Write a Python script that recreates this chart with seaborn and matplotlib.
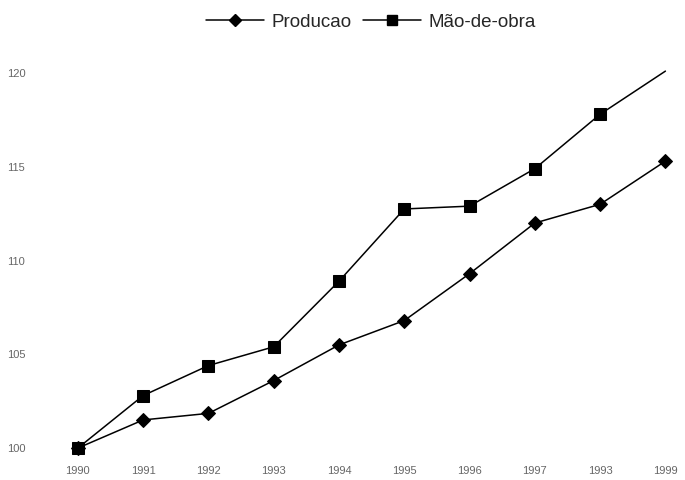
import matplotlib
matplotlib.use("Agg")
import matplotlib.pyplot as plt
from matplotlib.lines import Line2D
import seaborn as sns
import pandas as pd

years = [1990, 1991, 1992, 1993, 1994, 1995, 1996, 1997, 1998, 1999]
year_labels = ["1990", "1991", "1992", "1993", "1994", "1995", "1996", "1997", "1993", "1999"]
producao = [100, 101.5, 101.85, 103.6, 105.5, 106.8, 109.3, 112.0, 113.0, 115.3]
mao_de_obra = [100, 102.8, 104.4, 105.4, 108.9, 112.75, 112.9, 114.9, 117.8, 120.1]
y_ticks = [100, 105, 110, 115, 120]
series_names = ["Producao", "Mão-de-obra"]

sns.set_theme(style="white")
plt.rcParams["font.family"] = ["Liberation Sans", "DejaVu Sans"]

df_p = pd.DataFrame({"ano": years, "valor": producao})
df_m = pd.DataFrame({"ano": years, "valor": mao_de_obra})

fig = plt.figure(figsize=(6.85, 4.8), dpi=100)
ax = fig.add_axes([0.0613, 0.047, 0.9387, 0.840])

sns.lineplot(data=df_p, x="ano", y="valor", ax=ax, color="black", lw=1.1,
             marker="D", markersize=7.5, markeredgecolor="black",
             markerfacecolor="black")
sns.lineplot(data=df_m, x="ano", y="valor", ax=ax, color="black", lw=1.1,
             marker="s", markersize=9, markeredgecolor="black",
             markerfacecolor="black", markevery=list(range(len(years) - 1)))

ax.set_xlim(1989.45, 1999.3)
ax.set_ylim(99.5, 121)
ax.set_xticks(years)
ax.set_xticklabels(year_labels)
ax.set_yticks(y_ticks)
ax.set_yticklabels([str(v) for v in y_ticks])
ax.tick_params(axis="x", length=0, pad=6.5, labelsize=8, labelcolor="#666666")
ax.tick_params(axis="y", length=0, pad=12, labelsize=8, labelcolor="#666666")
ax.set_xlabel("")
ax.set_ylabel("")
for s in ax.spines.values():
    s.set_visible(False)
ax.grid(False)

handles = [
    Line2D([], [], color="black", lw=1.1, marker="D", markersize=6.5),
    Line2D([], [], color="black", lw=1.1, marker="s", markersize=7.5),
]
fig.legend(handles, series_names, loc="center", bbox_to_anchor=(0.541, 0.954),
           ncol=2, frameon=False, fontsize=13.5, handlelength=3.1,
           handletextpad=0.4, columnspacing=0.6)

fig.savefig("out.png", dpi=100)
